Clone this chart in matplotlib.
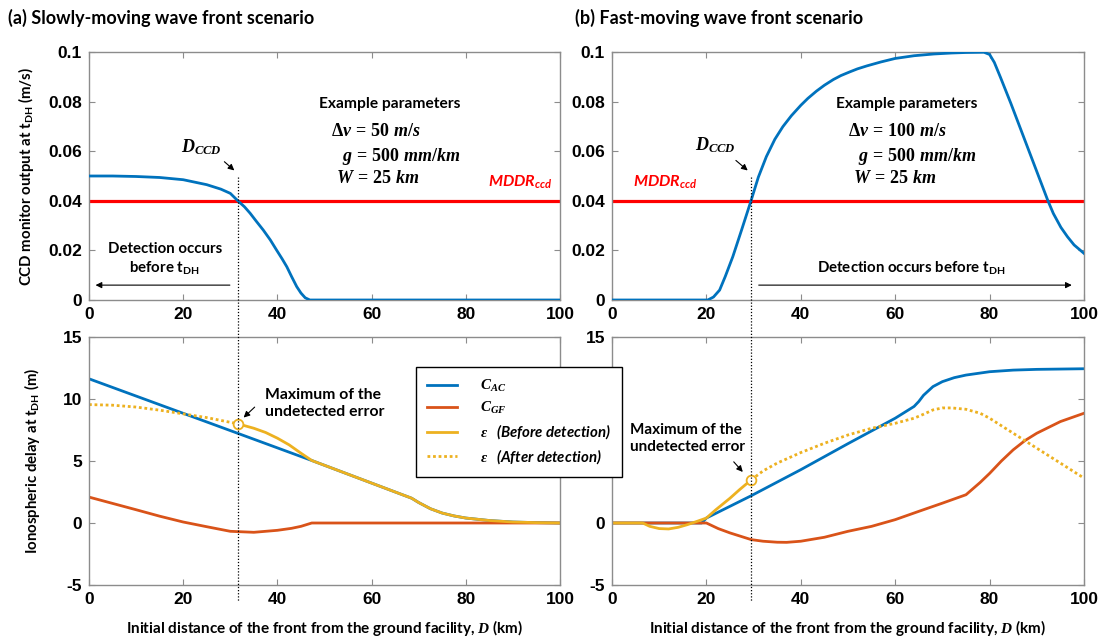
import numpy as np
import matplotlib
matplotlib.use("Agg")
import matplotlib.pyplot as plt
from matplotlib.lines import Line2D
from matplotlib.transforms import blended_transform_factory

plt.rcParams['mathtext.fontset'] = 'custom'
plt.rcParams['mathtext.it'] = 'Liberation Serif:italic:bold'
plt.rcParams['mathtext.rm'] = 'Liberation Serif:bold'
plt.rcParams['mathtext.bf'] = 'Liberation Serif:bold'

BLUE = '#0072BD'
ORANGE = '#D95319'
YELLOW = '#EDB120'
RED = '#FF0000'
TXT = 'Lato'

# ---------------- data ----------------
# (a) slow front, CCD monitor output
ccd_a_x = [0, 5, 10, 15, 20, 25, 28, 30, 31.6, 33, 34.2, 35.5, 37, 38.5, 39.8, 41, 42, 43,
           44.1, 45, 45.9, 46.9, 60, 80, 100]
ccd_a_y = [0.05, 0.05, 0.0498, 0.0494, 0.0485, 0.0465, 0.0447, 0.043, 0.040, 0.0376, 0.035,
           0.0318, 0.0282, 0.0242, 0.0202, 0.0166, 0.0134, 0.0095, 0.0054, 0.0028, 0.0009, 0,
           0, 0, 0]
# (b) fast front, CCD monitor output
ccd_b_x = [0, 10, 20.3, 21.5, 22.8, 24, 25.6, 27.5, 29.5, 31, 32.7, 34.5, 36.2, 38, 40, 41.5,
           43.3, 45, 46.9, 48.5, 50.4, 52, 54, 57, 60, 64, 68.2, 72, 75, 78.8, 80, 81, 82.3,
           84.5, 86.6, 89.4, 92.3, 93.5, 95.1, 96.5, 97.9, 100]
ccd_b_y = [0, 0, 0, 0.0012, 0.004, 0.0095, 0.0175, 0.0285, 0.0403, 0.0495, 0.0578, 0.0648,
           0.0699, 0.0743, 0.0785, 0.0813, 0.0842, 0.0866, 0.0889, 0.0905, 0.092, 0.0932,
           0.0944, 0.096, 0.0974, 0.0985, 0.0992, 0.0996, 0.0998, 0.0999, 0.099, 0.0958,
           0.0898, 0.0793, 0.0688, 0.0548, 0.0403, 0.0349, 0.0293, 0.0255, 0.0222, 0.0188]
mddr = 0.04
d_ccd_a = 31.6
d_ccd_b = 29.5

# (a) ionospheric delays
cac_a_x = [0, 31.6, 47.3, 68.5, 70, 72.5, 75, 77.5, 80, 85, 90, 95, 100]
cac_a_y = [11.63, 7.23, 5.04, 2.0, 1.65, 1.15, 0.8, 0.57, 0.4, 0.2, 0.08, 0.03, 0.0]
cgf_a_x = [0, 5, 10, 15, 20, 25, 30, 35, 40, 43, 45, 47.3, 60, 80, 100]
cgf_a_y = [2.09, 1.58, 1.07, 0.55, 0.08, -0.3, -0.67, -0.75, -0.59, -0.43, -0.27, 0, 0, 0, 0]
epsb_a_x = [31.6, 35, 37.5, 40, 42.5, 45, 47.3, 68.5, 70, 72.5, 75, 77.5, 80, 85, 90, 95, 100]
epsb_a_y = [8.0, 7.64, 7.3, 6.84, 6.3, 5.63, 5.04, 2.0, 1.65, 1.15, 0.8, 0.57, 0.4, 0.2, 0.08,
            0.03, 0.0]
epsa_a_x = [0, 5, 10, 15, 20, 25, 31.6]
epsa_a_y = [9.55, 9.5, 9.35, 9.1, 8.8, 8.5, 8.0]

# (b) ionospheric delays
cac_b_x = [0, 19, 20, 29.5, 40, 50, 60, 64, 65, 66, 68, 70, 72.5, 75, 80, 85, 90, 100]
cac_b_y = [0, 0, 0.4, 2.2, 4.3, 6.4, 8.45, 9.4, 9.8, 10.3, 11.0, 11.4, 11.72, 11.93, 12.2,
           12.33, 12.39, 12.44]
cgf_b_x = [0, 20, 22.5, 25, 29.5, 32, 35, 37, 40, 45, 50, 55, 60, 65, 70, 75, 78, 80, 82.5,
           85, 87.5, 90, 95, 100]
cgf_b_y = [0, 0, -0.45, -0.8, -1.34, -1.47, -1.55, -1.56, -1.47, -1.15, -0.67, -0.27, 0.27,
           0.94, 1.6, 2.28, 3.27, 4.0, 5.0, 5.9, 6.65, 7.24, 8.18, 8.85]
epsb_b_x = [0, 6.5, 8, 10, 12, 14, 16, 18, 20, 22, 25, 27, 29.5]
epsb_b_y = [0, 0, -0.27, -0.45, -0.48, -0.35, -0.13, 0.13, 0.4, 1.07, 2.0, 2.68, 3.48]
epsa_b_x = [29.5, 32, 35, 40, 45, 50, 55, 60, 64, 66, 68, 70, 72, 75, 78, 80, 85, 90, 95, 100]
epsa_b_y = [3.48, 4.2, 4.83, 5.68, 6.43, 7.1, 7.64, 8.04, 8.45, 8.77, 9.12, 9.28, 9.28, 9.17,
            8.85, 8.45, 7.24, 6.03, 4.83, 3.62]

xticks = [0, 20, 40, 60, 80, 100]
ccd_ticks = [0, 0.02, 0.04, 0.06, 0.08, 0.1]
ccd_ticklabels = ['0', '0.02', '0.04', '0.06', '0.08', '0.1']
ion_ticks = [-5, 0, 5, 10, 15]

fig = plt.figure(figsize=(10.99, 6.40), dpi=100)
W, H = 1099, 640


def add_ax(x0, x1, ytop, ybot):
    return fig.add_axes([x0 / W, 1 - ybot / H, (x1 - x0) / W, (ybot - ytop) / H])


ax_a = add_ax(89, 560, 52, 300)
ax_b = add_ax(612, 1084, 52, 300)
ax_c = add_ax(89, 560, 337, 585)
ax_d = add_ax(612, 1084, 337, 585)

for ax in (ax_a, ax_b, ax_c, ax_d):
    ax.set_xlim(0, 100)
    ax.set_xticks(xticks)
    for s in ax.spines.values():
        s.set_color('#8c8c8c')
        s.set_linewidth(1.0)
    ax.tick_params(direction='in', top=True, right=True, length=4, color='#8c8c8c',
                   labelsize=12.5, pad=5)
    for lab in ax.get_xticklabels() + ax.get_yticklabels():
        lab.set_fontweight('bold')
        lab.set_family('Liberation Sans')

for ax in (ax_a, ax_b):
    ax.set_ylim(0, 0.1)
    ax.set_yticks(ccd_ticks)
    ax.set_yticklabels(ccd_ticklabels, fontweight='bold', family='Liberation Sans')
    ax.axhline(mddr, color=RED, lw=2.3, zorder=2)
for ax in (ax_c, ax_d):
    ax.set_ylim(-5, 15)
    ax.set_yticks(ion_ticks)
    ax.set_yticklabels([str(t) for t in ion_ticks], fontweight='bold', family='Liberation Sans')

lw = 2.0
ax_a.plot(ccd_a_x, ccd_a_y, color=BLUE, lw=lw, zorder=3)
ax_b.plot(ccd_b_x, ccd_b_y, color=BLUE, lw=lw, zorder=3)

ax_c.plot(cac_a_x, cac_a_y, color=BLUE, lw=lw)
ax_c.plot(cgf_a_x, cgf_a_y, color=ORANGE, lw=lw)
ax_c.plot(epsb_a_x, epsb_a_y, color=YELLOW, lw=lw)
ax_c.plot(epsa_a_x, epsa_a_y, color=YELLOW, lw=lw, ls=(0, (1, 1)))
ax_c.plot([epsb_a_x[0]], [epsb_a_y[0]], 'o', ms=7, mfc='white', mec=YELLOW, mew=1.3, zorder=5)

h1, = ax_d.plot(cac_b_x, cac_b_y, color=BLUE, lw=lw)
h2, = ax_d.plot(cgf_b_x, cgf_b_y, color=ORANGE, lw=lw)
h3, = ax_d.plot(epsb_b_x, epsb_b_y, color=YELLOW, lw=lw)
h4, = ax_d.plot(epsa_b_x, epsa_b_y, color=YELLOW, lw=lw, ls=(0, (1, 1)))
ax_d.plot([epsb_b_x[-1]], [epsb_b_y[-1]], 'o', ms=7, mfc='white', mec=YELLOW, mew=1.3, zorder=5)

# dotted vertical lines through both panels
for ax, d in ((ax_c, d_ccd_a), (ax_d, d_ccd_b)):
    tr = blended_transform_factory(ax.transData, fig.transFigure)
    fig.add_artist(Line2D([d, d], [1 - 177 / H, 1 - 602 / H], transform=tr,
                          color='black', lw=0.9, ls=(0, (1, 1.5))))

arrow_kw = dict(arrowstyle='-|>', color='black', lw=0.8, mutation_scale=9)

# D_CCD labels
ax_a.text(23.8, 0.0617, '$D_{CCD}$', fontsize=13, ha='center', va='center')
ax_a.annotate('', xy=(31.3, 0.0515), xytext=(28.3, 0.0565), arrowprops=arrow_kw)
ax_b.text(21.9, 0.0624, '$D_{CCD}$', fontsize=13, ha='center', va='center')
ax_b.annotate('', xy=(29.2, 0.0515), xytext=(25.8, 0.057), arrowprops=arrow_kw)

# example parameters
for ax, ex, pars in ((ax_a, 63.9, [(51.4, r'$\Delta v\, =\, 50\ m/s$'), (53.7, r'$g\, =\, 500\ mm/km$'),
                                   (52.5, r'$W\, =\, 25\ km$')]),
                     (ax_b, 62.5, [(50.1, r'$\Delta v\, =\, 100\ m/s$'), (52.1, r'$g\, =\, 500\ mm/km$'),
                                   (51.0, r'$W\, =\, 25\ km$')])):
    ax.text(ex, 0.0789, 'Example parameters', family=TXT, fontweight='bold', fontsize=11.2,
            ha='center', va='center')
    for (px, s), py in zip(pars, [0.068, 0.058, 0.049]):
        ax.text(px, py, s, fontsize=13, ha='left', va='center')

# MDDR labels
ax_a.text(84.7, 0.0475, r'MDDR$_\mathregular{ccd}$', color=RED, family=TXT, fontweight='bold',
          fontstyle='italic', fontsize=11.5, ha='left', va='center')
ax_b.text(4.5, 0.0475, r'MDDR$_\mathregular{ccd}$', color=RED, family=TXT, fontweight='bold',
          fontstyle='italic', fontsize=11.5, ha='left', va='center')

# detection arrows
ax_a.text(16.1, 0.0165, 'Detection occurs\nbefore t$_\\mathregular{DH}$', family=TXT,
          fontweight='bold', fontsize=10.8, ha='center', va='center', linespacing=1.3)
ax_a.annotate('', xy=(0.8, 0.006), xytext=(30.5, 0.006), arrowprops=arrow_kw)
ax_b.text(63.4, 0.0128, 'Detection occurs before t$_\\mathregular{DH}$', family=TXT,
          fontweight='bold', fontsize=10.8, ha='center', va='center')
ax_b.annotate('', xy=(98, 0.006), xytext=(30.5, 0.006), arrowprops=arrow_kw)

# maximum of undetected error
ax_c.text(37.4, 9.65, 'Maximum of the\nundetected error', family=TXT, fontweight='bold',
          fontsize=11.3, ha='left', va='center', linespacing=1.3)
ax_c.annotate('', xy=(32.4, 8.35), xytext=(35.6, 9.5), arrowprops=arrow_kw)
ax_d.text(3.9, 6.8, 'Maximum of the\nundetected error', family=TXT, fontweight='bold',
          fontsize=11, ha='left', va='center', linespacing=1.3)
ax_d.annotate('', xy=(28.1, 3.95), xytext=(25.4, 5.1), arrowprops=arrow_kw)

# axis labels
ax_a.set_ylabel('CCD monitor output at t$_\\mathregular{DH}$ (m/s)', family=TXT, fontweight='bold',
                fontsize=10.8, labelpad=9)
ax_c.set_ylabel('Ionospheric delay at t$_\\mathregular{DH}$ (m)', family=TXT, fontweight='bold',
                fontsize=10.8, labelpad=15)
for ax in (ax_c, ax_d):
    ax.set_xlabel('Initial distance of the front from the ground facility, $D$ (km)', family=TXT,
                  fontweight='bold', fontsize=11, labelpad=8)

# titles
fig.text(8 / W, 1 - 18 / H, '(a) Slowly-moving wave front scenario', family=TXT, fontweight='bold',
         fontsize=13, ha='left', va='center')
fig.text(575 / W, 1 - 18 / H, '(b) Fast-moving wave front scenario', family=TXT, fontweight='bold',
         fontsize=13, ha='left', va='center')

# legend (sits on top of the right panel's y tick labels, like the original)
leg = fig.legend([h1, h2, h3, h4],
                 ['$C_{AC}$', '$C_{GF}$', r'$\varepsilon$   (Before detection)',
                  r'$\varepsilon$   (After detection)'],
                 loc='upper left', bbox_to_anchor=(416 / W, 1 - 367 / H),
                 prop=dict(family=TXT, weight='bold', style='italic', size=10.8),
                 frameon=True, fancybox=False, edgecolor='black', framealpha=1,
                 handlelength=2.0, handletextpad=1.5, borderpad=0.75, borderaxespad=0,
                 labelspacing=0.4)
leg.get_frame().set_linewidth(1.0)
leg.set_zorder(10)

fig.savefig('out.png', dpi=100)
